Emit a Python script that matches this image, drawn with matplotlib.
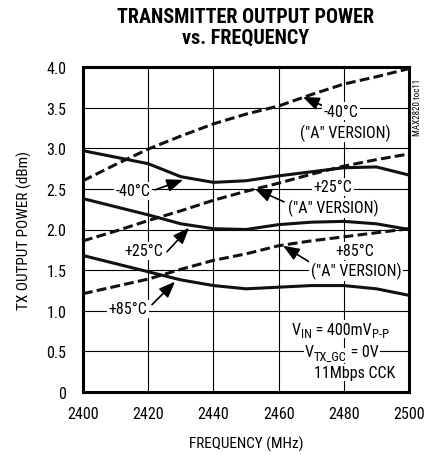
import matplotlib
matplotlib.use("Agg")
import os
import matplotlib.pyplot as plt
from matplotlib import font_manager
from matplotlib.font_manager import FontProperties

freq = [2400, 2410, 2420, 2430, 2440, 2450, 2460, 2470, 2480, 2490, 2500]
m40_a = [2.60, 2.80, 2.99, 3.15, 3.30, 3.42, 3.52, 3.66, 3.79, 3.88, 3.98]
m40 = [2.97, 2.89, 2.81, 2.65, 2.58, 2.60, 2.66, 2.71, 2.76, 2.77, 2.67]
p25_a = [1.86, 1.98, 2.11, 2.23, 2.36, 2.47, 2.57, 2.68, 2.78, 2.86, 2.93]
p25 = [2.38, 2.28, 2.18, 2.07, 2.01, 2.00, 2.06, 2.09, 2.10, 2.07, 2.00]
p85_a = [1.21, 1.30, 1.39, 1.51, 1.62, 1.70, 1.80, 1.86, 1.91, 1.96, 2.01]
p85 = [1.68, 1.58, 1.48, 1.38, 1.31, 1.27, 1.29, 1.31, 1.31, 1.27, 1.19]

xticks = [2400, 2420, 2440, 2460, 2480, 2500]
yticks = [0, 0.5, 1.0, 1.5, 2.0, 2.5, 3.0, 3.5, 4.0]
ytick_labels = ["0", "0.5", "1.0", "1.5", "2.0", "2.5", "3.0", "3.5", "4.0"]

files = [f.fname for f in font_manager.fontManager.ttflist]
def find(cands):
    for c in cands:
        for f in files:
            if os.path.basename(f).lower() == c.lower():
                return f
    return None

reg_file = find(["LiberationSansNarrow-Regular.ttf", "RobotoCondensed-Regular.ttf",
                 "DejaVuSansCondensed.ttf", "NotoSans-Condensed.ttf", "OpenSans-CondensedRegular.ttf"])
bold_file = find(["LiberationSansNarrow-Bold.ttf", "RobotoCondensed-Bold.ttf",
                  "DejaVuSansCondensed-Bold.ttf", "NotoSans-CondensedBold.ttf", "OpenSans-CondensedBold.ttf"])
if reg_file is None:
    for f in files:
        b = os.path.basename(f).lower()
        if ("condensed" in b or "narrow" in b) and "bold" not in b and "italic" not in b and "oblique" not in b:
            reg_file = f
            break
if bold_file is None:
    for f in files:
        b = os.path.basename(f).lower()
        if ("condensed" in b or "narrow" in b) and "bold" in b and "italic" not in b and "oblique" not in b:
            bold_file = f
            break

def fp(size, bold=False):
    f = bold_file if bold else reg_file
    if f:
        return FontProperties(fname=f, size=size)
    return FontProperties(family='DejaVu Sans', size=size, weight='bold' if bold else 'normal')

if reg_file:
    font_manager.fontManager.addfont(reg_file)
    plt.rcParams['font.family'] = [FontProperties(fname=reg_file).get_name(), 'DejaVu Sans']

fig = plt.figure(figsize=(4.25, 4.56), dpi=100)
ax = fig.add_axes([83/425, 1-393/456, 326/425, 325/456])

lw = 2.2
dash = (3.2, 1.4)
ax.plot(freq, m40_a, color='#111111', lw=lw, dashes=dash, zorder=3)
ax.plot(freq, p25_a, color='#111111', lw=lw, dashes=dash, zorder=3)
ax.plot(freq, p85_a, color='#111111', lw=lw, dashes=dash, zorder=3)
ax.plot(freq, m40, color='#111111', lw=lw, zorder=3)
ax.plot(freq, p25, color='#111111', lw=lw, zorder=3)
ax.plot(freq, p85, color='#111111', lw=lw, zorder=3)

ax.set_xlim(2400, 2500)
ax.set_ylim(0, 4.0)
ax.set_xticks(xticks)
ax.set_yticks(yticks)
ax.set_yticklabels(ytick_labels)
ax.tick_params(length=0, pad=10)
ax.tick_params(axis='y', pad=12)
for lab_ in ax.get_xticklabels() + ax.get_yticklabels():
    lab_.set_fontproperties(fp(11.5))
ax.grid(True, color='black', lw=0.8)
ax.set_axisbelow(True)
for s in ax.spines.values():
    s.set_linewidth(2.2)

ax.set_xlabel("FREQUENCY (MHz)", fontproperties=fp(11), labelpad=11)
ax.set_ylabel("TX OUTPUT POWER (dBm)", fontproperties=fp(11), labelpad=10)

fig.text(246/425, 1-28/456, "TRANSMITTER OUTPUT POWER\nvs. FREQUENCY", ha='center', va='center',
         fontproperties=fp(14.5, bold=True), linespacing=1.1)
fig.text(418/425, 1-107/456, "MAX2820 toc11", rotation=90, ha='center', va='center', fontproperties=fp(6.5))

wb = dict(facecolor='white', edgecolor='none', pad=1)
tfs = 11.5
arrow = dict(arrowstyle='-|>,head_length=0.7,head_width=0.28', color='black', lw=1.2,
             mutation_scale=14, shrinkA=0, shrinkB=0)

def px(x, y):
    return (2400 + (x - 83) / 3.26, (393.5 - y) / 81.4)

def lab(x, y, s, ha='center', box=True):
    ax.text(*px(x, y), s, ha=ha, va='center', fontproperties=fp(tfs), bbox=wb if box else None, zorder=6)

def chain(x, y, pieces):
    prev = None
    for txt, size, dy in pieces:
        if prev is None:
            prev = ax.text(*px(x, y), txt, ha='left', va='baseline', fontproperties=fp(size),
                           bbox=wb, zorder=6)
        else:
            prev = ax.annotate(txt, xy=(1, 0), xycoords=prev, xytext=(0, dy), textcoords='offset points',
                               ha='left', va='bottom', fontproperties=fp(size), bbox=wb, zorder=6)
            # keep following pieces anchored at the base line
            if dy != 0:
                base = prev
                prev = ax.annotate("", xy=(1, 0), xycoords=base, xytext=(0, -dy),
                                   textcoords='offset points', ha='left', va='bottom')
    return prev

# -40 A
ax.annotate("", xy=px(303, 98), xytext=px(328, 109), arrowprops=arrow, zorder=5)
lab(341, 112, "-40°C")
lab(345, 133, '("A" VERSION)')
# -40
ax.annotate("", xy=px(183, 181), xytext=px(155, 191), arrowprops=arrow, zorder=5)
lab(133, 192, "-40°C")
# +25 A
ax.annotate("", xy=px(255, 190), xytext=px(284, 203), arrowprops=arrow, zorder=5)
lab(333, 188, "+25°C")
lab(333, 209, '("A" VERSION)')
# +25
ax.annotate("", xy=px(189, 229), xytext=px(167, 253), arrowprops=arrow, zorder=5)
lab(144, 252, "+25°C")
# +85 A
ax.annotate("", xy=px(283, 247), xytext=px(309, 263), arrowprops=arrow, zorder=5)
lab(355, 252, "+85°C")
lab(356, 272, '("A" VERSION)')
# +85
ax.annotate("", xy=px(175, 283), xytext=px(152, 306), arrowprops=arrow, zorder=5)
lab(128, 310, "+85°C")

# conditions
chain(292, 335, [("V", tfs, 0), ("IN", 9, -2.5), (" = 400mV", tfs, 0), ("P-P", 9, -2.5)])
chain(305, 357, [("V", tfs, 0), ("TX_GC", 9, -2.5), (" = 0V", tfs, 0)])
lab(355, 374, "11Mbps CCK")

fig.savefig("out.png", dpi=100)
